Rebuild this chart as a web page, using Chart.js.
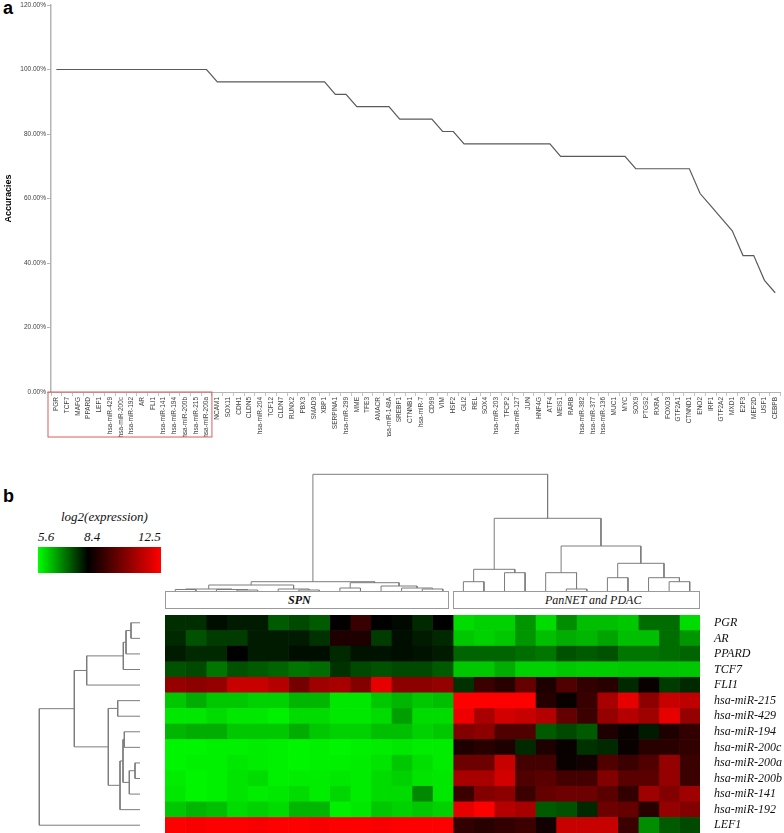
<!DOCTYPE html>
<html>
<head>
<meta charset="utf-8">
<script src="https://cdn.jsdelivr.net/npm/chart.js@4.4.1/dist/chart.umd.min.js"></script>
<style>
  body { margin: 0; width: 784px; height: 833px; position: relative; background: #fff; overflow: hidden; }
  canvas, .abs { position: absolute; }
  .panel { font: bold 18px "Liberation Sans", Arial, sans-serif; line-height: 18px; color: #000; }
  .serif { font-family: "Liberation Serif", "Times New Roman", serif; font-style: italic; color: #111; white-space: nowrap; }
  .grp { border: 1px solid #9a9a9a; box-sizing: border-box; height: 18px; top: 591px; }
</style>
</head>
<body>
<div class="abs panel" style="left:3px;top:-1px">a</div>
<canvas id="acc" width="784" height="445" style="left:0;top:0"></canvas>

<div class="abs panel" style="left:3px;top:487px">b</div>
<div class="abs serif" style="left:61px;top:509px;font-size:13px">log2(expression)</div>
<div class="abs serif" id="stopLo" style="left:38px;top:529px;font-size:13px"></div>
<div class="abs serif" id="stopMid" style="left:84px;top:529px;font-size:13px"></div>
<div class="abs serif" id="stopHi" style="left:138px;top:529px;font-size:13px"></div>
<div class="abs" id="grad" style="left:38px;top:547px;width:123px;height:26px"></div>

<canvas id="colDend" width="535" height="121" style="left:165px;top:470px"></canvas>
<div class="abs grp" style="left:165px;width:284px"><span class="abs serif" id="g1" style="left:122px;top:1px;font-size:12px;font-weight:bold"></span></div>
<div class="abs grp" style="left:453px;width:247px"><span class="abs serif" id="g2" style="left:91px;top:1px;font-size:12px"></span></div>
<canvas id="rowDend" width="110" height="218" style="left:30px;top:615px"></canvas>
<canvas id="heat" width="619" height="218" style="left:165px;top:615px"></canvas>

<script>
// ---- panel a : accuracy per feature ----
const genes = ["PGR","TCF7","MAFG","PPARD","LEF1","hsa-miR-429","hsa-miR-200c","hsa-miR-192","AR","FLI1",
  "hsa-miR-141","hsa-miR-194","hsa-miR-200b","hsa-miR-215","hsa-miR-200a","NCAM1","SOX11","CDH1","CLDN5","hsa-miR-204",
  "TCF12","CLDN7","RUNX2","PBX3","SMAD3","XBP1","SERPINA1","hsa-miR-299","MME","TFE3",
  "AMACR","hsa-miR-148A","SREBF1","CTNNB1","hsa-miR-7","CD99","VIM","HSF2","GLI2","REL",
  "SOX4","hsa-miR-203","TFCP2","hsa-miR-127","JUN","HNF4G","ATF4","MEIS1","RARB","hsa-miR-382",
  "hsa-miR-377","hsa-miR-136","MUC1","MYC","SOX9","PTGS2","RXRA","FOXO3","GTF2A1","CTNND1",
  "ENO2","IRF1","GTF2A2","MXD1","E2F3","MEF2D","USF1","CEBPB"];
const accuracy = [100,100,100,100,100,100,100,100,100,100,100,100,100,100,100,
  96.15,96.15,96.15,96.15,96.15,96.15,96.15,96.15,96.15,96.15,96.15,
  92.31,92.31,
  88.46,88.46,88.46,88.46,
  84.62,84.62,84.62,84.62,
  80.77,80.77,
  76.92,76.92,76.92,76.92,76.92,76.92,76.92,76.92,76.92,
  73.08,73.08,73.08,73.08,73.08,73.08,73.08,
  69.23,69.23,69.23,69.23,69.23,69.23,
  61.54,57.69,53.85,50.00,42.31,42.31,34.62,30.77];
const topCount = 15;

// ---- panel b : heatmap ----
const heatRows = ["PGR","AR","PPARD","TCF7","FLI1","hsa-miR-215","hsa-miR-429","hsa-miR-194",
  "hsa-miR-200c","hsa-miR-200a","hsa-miR-200b","hsa-miR-141","hsa-miR-192","LEF1"];
const groups = ["SPN", "PanNET and PDAC"];
const colorStops = [5.6, 8.4, 12.5];
// 14 SPN samples, then 12 PanNET / PDAC samples
const exPGR   = [7.9,7.9,8.25,8.1,8.1,7.4,7.6,7.4,8.45,9.3,8.4,8.3,7.95,8.4,   6.0,6.1,6.1,6.75,6.0,6.85,6.3,6.3,6.2,7.2,7.2,6.0];
const exAR    = [7.95,7.5,7.75,7.75,8.1,8.1,8.1,7.85,8.9,8.9,7.75,8.25,8.1,7.95, 6.2,6.1,6.2,6.75,6.3,6.5,6.4,6.6,6.3,6.3,7.2,6.75];
const exPPARD = [8.1,7.95,7.95,8.4,8.1,8.1,8.25,8.25,7.95,8.2,8.2,8.25,8.2,8.1, 7.3,7.3,7.3,7.2,7.1,7.5,7.4,7.5,7.1,7.1,7.2,7.3];
const exTCF7  = [7.5,7.6,7.1,7.5,7.4,7.3,7.1,7.2,7.85,7.6,7.5,7.6,7.6,7.4,     6.2,6.2,6.5,6.1,6.1,6.2,6.15,6.15,6.2,6.2,6.2,6.2];
const exFLI1  = [10.8,10.65,10.8,11.6,11.6,11.3,10.3,10.95,11.1,10.5,12.1,10.65,10.65,10.8, 7.85,9.35,9.05,10.0,8.9,9.7,9.2,9.05,7.95,8.55,7.75,7.95];
const ex215   = [6.2,6.5,6.2,6.2,6.1,6.1,6.4,6.4,5.85,5.85,6.2,6.4,6.2,6.3,    12.5,12.5,12.5,12.5,9.0,8.55,9.3,11.1,12.1,10.65,11.6,11.45];
const ex429   = [5.85,5.85,6.0,5.85,5.85,5.75,6.0,6.0,5.85,5.85,6.0,6.65,6.0,6.0, 12.25,11.1,11.8,11.6,11.3,10.0,9.35,10.8,11.3,10.95,12.1,10.8];
const ex194   = [6.4,6.5,6.5,6.2,6.2,6.2,6.5,6.2,6.1,6.1,6.3,6.3,6.1,6.2,      10.5,10.65,9.7,9.7,7.4,7.6,7.4,8.9,8.55,8.1,8.9,9.2];
const ex200c  = [5.7,5.7,5.75,5.75,5.8,5.75,5.7,5.75,5.7,5.75,5.8,5.85,5.8,5.8, 8.9,9.05,8.9,7.95,8.9,8.55,7.85,7.95,8.55,9.05,9.05,9.2];
const ex200a  = [5.7,5.75,5.75,5.85,5.8,5.75,5.7,5.75,5.75,5.8,5.9,6.2,5.95,5.8, 10.15,10.15,11.6,9.5,9.5,8.55,8.7,9.7,9.35,9.7,10.8,9.35];
const ex200b  = [5.8,5.7,5.75,5.9,6.0,5.75,5.8,5.8,5.85,5.8,6.0,6.1,5.9,5.85,  11.1,11.1,11.8,9.7,9.85,9.5,9.5,10.5,9.85,9.85,10.8,9.35];
const ex141   = [5.85,5.7,5.75,5.9,5.8,5.85,6.0,5.8,6.05,5.8,6.0,6.0,6.9,5.85, 9.35,10.5,10.65,9.35,10.0,10.15,10.15,9.85,9.2,10.95,10.5,10.95];
const ex192   = [6.2,6.4,6.3,6.0,6.1,6.0,6.4,6.4,5.75,5.85,6.2,6.1,6.2,6.1,    12.1,12.5,11.3,11.1,7.4,7.5,7.95,10.15,10.0,9.05,10.8,10.5];
const exLEF1  = [12.5,12.4,12.5,12.5,12.4,12.5,12.5,12.4,12.5,12.5,12.4,12.5,12.5,12.5, 9.2,9.05,9.2,9.35,8.7,11.6,11.6,11.6,9.35,6.85,7.4,7.6];
const expr = [exPGR, exAR, exPPARD, exTCF7, exFLI1, ex215, ex429, ex194, ex200c, ex200a, ex200b, ex141, ex192, exLEF1];

// dendrograms: [childA, childB, height]; leaves are 0..n-1, new nodes n, n+1, ...
const colMerges = [
  [0,1,1.5],[3,4,1],[2,27,1.5],[26,28,2],[6,7,1],[5,30,2],[29,31,6],
  [8,9,3],[12,13,2],[11,34,3],[10,35,5],[33,36,8.3],[32,37,9.3],
  [14,15,9.3],[16,17,18.3],[39,40,21.7],[19,20,2],[18,42,18.3],[21,22,13.3],
  [24,25,9.3],[23,45,13.3],[44,46,27.7],[43,47,45],[41,48,72.7],[38,49,116.7]];
const rowMerges = [
  [0,1,9],[14,2,14],[15,3,16.7],[16,4,53.3],[5,6,22.3],[7,8,15.7],[9,10,5],
  [20,11,10.7],[19,21,17],[22,12,20],[18,23,31.7],[17,24,65.7],[25,13,100.7]];

Chart.defaults.font.family = '"Liberation Sans", Arial, sans-serif';

const redBox = {
  id: 'redBox',
  afterDraw(chart) {
    const x = chart.scales.x, ctx = chart.ctx;
    const half = (x.getPixelForValue(1) - x.getPixelForValue(0)) / 2;
    const left = x.getPixelForValue(0) - half - 3;
    const right = x.getPixelForValue(topCount - 1) + half;
    ctx.save();
    ctx.strokeStyle = '#e05a5a';
    ctx.lineWidth = 1;
    ctx.strokeRect(left, x.top, right - left, 45);
    ctx.restore();
  }
};

new Chart(document.getElementById('acc'), {
  type: 'line',
  data: {
    labels: genes,
    datasets: [{ data: accuracy, borderColor: '#5a5a5a', borderWidth: 1.2, pointRadius: 0, tension: 0, fill: false }]
  },
  options: {
    responsive: false, animation: false,
    layout: { padding: { top: 5, right: 1.5, bottom: 8, left: 0 } },
    plugins: { legend: { display: false }, tooltip: { enabled: false } },
    scales: {
      x: {
        offset: true,
        grid: { drawOnChartArea: false, tickLength: 4, color: '#c4c4c4', offset: true },
        border: { color: '#b4b4b4', width: 1 },
        ticks: { autoSkip: false, minRotation: 90, maxRotation: 90, font: { size: 6.5 }, color: '#404040', padding: 1 },
        afterFit: s => { s.height = 45; }
      },
      y: {
        min: 0, max: 120,
        ticks: { stepSize: 20, callback: v => v.toFixed(2) + '%', font: { size: 6.5 }, color: '#404040', padding: 1 },
        grid: { drawOnChartArea: false, tickLength: 4, color: '#b4b4b4' },
        border: { color: '#b4b4b4', width: 1.5 },
        title: { display: true, text: 'Accuracies', font: { size: 9, weight: 'bold' }, color: '#000', padding: { top: 3, bottom: 0 } },
        afterFit: s => { s.width = 51; }
      }
    }
  },
  plugins: [redBox]
});

// legend and group labels
document.getElementById('stopLo').textContent = colorStops[0].toFixed(1);
document.getElementById('stopMid').textContent = colorStops[1].toFixed(1);
document.getElementById('stopHi').textContent = colorStops[2].toFixed(1);
const midPct = (colorStops[1] - colorStops[0]) / (colorStops[2] - colorStops[0]) * 100;
document.getElementById('grad').style.background =
  'linear-gradient(to right, #00ff00 0%, #000 ' + midPct + '%, #ff0000 100%)';
document.getElementById('g1').textContent = groups[0];
document.getElementById('g2').textContent = groups[1];

function exprColor(v) {
  if (v <= colorStops[1]) {
    const t = Math.min(1, (colorStops[1] - v) / (colorStops[1] - colorStops[0]));
    return 'rgb(0,' + Math.round(255 * t) + ',0)';
  }
  const t = Math.min(1, (v - colorStops[1]) / (colorStops[2] - colorStops[1]));
  return 'rgb(' + Math.round(255 * t) + ',0,0)';
}

const nCols = exPGR.length;
const columns = Array.from({ length: nCols }, (_, c) => c);

new Chart(document.getElementById('heat'), {
  type: 'bar',
  data: {
    labels: heatRows,
    datasets: columns.map(c => ({
      data: heatRows.map(() => 1),
      backgroundColor: expr.map(r => exprColor(r[c])),
      borderWidth: 0, barPercentage: 1, categoryPercentage: 1
    }))
  },
  options: {
    indexAxis: 'y', responsive: false, animation: false,
    layout: { padding: 0 },
    plugins: { legend: { display: false }, tooltip: { enabled: false } },
    scales: {
      x: { stacked: true, display: false, min: 0, max: nCols },
      y: {
        stacked: true, position: 'right',
        grid: { display: false }, border: { display: false },
        ticks: { autoSkip: false, crossAlign: 'near', padding: 6, color: '#111',
          font: { family: '"Liberation Serif", "Times New Roman", serif', style: 'italic', size: 12 } },
        // rows fill the whole canvas height: drop the label overhang padding
        afterFit: s => { s.width = 84; s.paddingTop = 0; s.paddingBottom = 0; }
      }
    }
  }
});

function dendroSegments(merges, nLeaves) {
  const pos = Array.from({ length: nLeaves }, (_, i) => i);
  const hgt = new Array(nLeaves).fill(0);
  const segs = [];
  merges.forEach(([a, b, h]) => {
    segs.push([[pos[a], hgt[a]], [pos[a], h], [pos[b], h], [pos[b], hgt[b]]]);
    pos.push((pos[a] + pos[b]) / 2);
    hgt.push(h);
  });
  return segs;
}

function dendroChart(id, segs, horizontal, scales) {
  return new Chart(document.getElementById(id), {
    type: 'scatter',
    data: {
      datasets: segs.map(s => ({
        data: s.map(([p, h]) => horizontal ? { x: h, y: p } : { x: p, y: h }),
        showLine: true, borderColor: '#7c7c7c', borderWidth: 1, pointRadius: 0
      }))
    },
    options: {
      responsive: false, animation: false,
      layout: { padding: 0 },
      plugins: { legend: { display: false }, tooltip: { enabled: false } },
      scales: scales
    }
  });
}

dendroChart('colDend', dendroSegments(colMerges, nCols), false, {
  x: { type: 'linear', display: false, min: -0.5, max: nCols - 0.5 },
  y: { type: 'linear', display: false, min: 0, max: 121 }
});
dendroChart('rowDend', dendroSegments(rowMerges, heatRows.length), true, {
  x: { type: 'linear', display: false, min: 0, max: 110, reverse: true },
  y: { type: 'linear', display: false, min: -0.5, max: heatRows.length - 0.5, reverse: true }
});
</script>
</body>
</html>
